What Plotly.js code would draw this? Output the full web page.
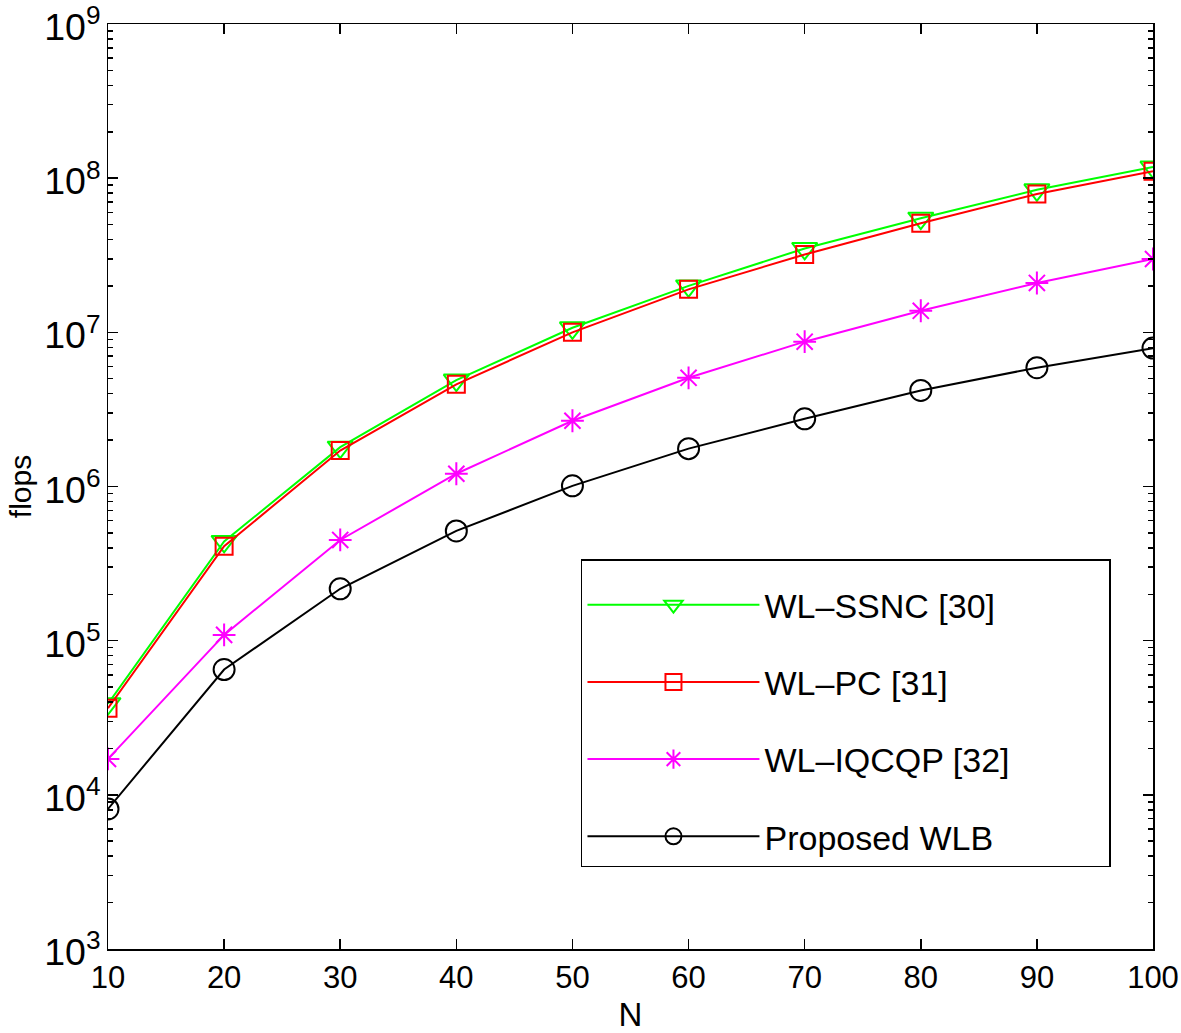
<!DOCTYPE html>
<html>
<head>
<meta charset="utf-8">
<script src="https://cdn.plot.ly/plotly-3.0.1.min.js"></script>
<style>html,body{margin:0;padding:0;background:#fff;}#chart{width:1181px;height:1033px;}</style>
</head>
<body>
<div id="chart"></div>
<script>
const N = [10, 20, 30, 40, 50, 60, 70, 80, 90, 100];
const ssnc = [3.9e4, 4.4e5, 1.8e6, 4.9e6, 1.07e7, 2.0e7, 3.5e7, 5.5e7, 8.4e7, 1.18e8];
const pc = [3.65e4, 4.1e5, 1.71e6, 4.6e6, 1.0e7, 1.9e7, 3.2e7, 5.1e7, 7.9e7, 1.11e8];
const iqcqp = [1.71e4, 1.09e5, 4.5e5, 1.21e6, 2.67e6, 5.07e6, 8.7e6, 1.38e7, 2.09e7, 2.99e7];
const wlb = [8.1e3, 6.5e4, 2.17e5, 5.15e5, 1.01e6, 1.76e6, 2.75e6, 4.2e6, 5.9e6, 7.9e6];
const names = ['WL\u2013SSNC [30]', 'WL\u2013PC [31]', 'WL\u2013IQCQP [32]', 'Proposed WLB'];

const FONT = '"Liberation Sans", Arial, Helvetica, sans-serif';
const PAD = '\u00a0'.repeat(10);

function tr(y, name, color, symbol, size) {
  return {
    x: N, y: y, name: name, type: 'scatter', mode: 'lines+markers',
    legendgroup: name,
    line: {color: color, width: 2},
    marker: {symbol: symbol, size: size, color: color, line: {color: color, width: 2}}
  };
}

const data = [
  tr(ssnc, names[0], '#00ff00', 'triangle-down-open', 22),
  tr(pc, names[1], '#ff0000', 'square-open', 17),
  tr(iqcqp, names[2] + PAD, '#ff00ff', 'asterisk-open', 19),
  tr(wlb, names[3], '#000000', 'circle-open', 21)
];

const layout = {
  width: 1181, height: 1033,
  margin: {l: 108, r: 28, t: 24, b: 84},
  paper_bgcolor: '#fff', plot_bgcolor: '#fff',
  font: {family: FONT, size: 30, color: '#000'},
  showlegend: true,
  legend: {
    x: 0.4526, y: 0.4216, xanchor: 'left', yanchor: 'top',
    bordercolor: '#000', borderwidth: 1.5, bgcolor: '#fff',
    font: {family: FONT, size: 34, color: '#000'},
    title: {text: '\u00a0', font: {family: FONT, size: 12}},
    tracegroupgap: 30, itemwidth: 172
  },
  xaxis: {
    range: [10, 100], dtick: 10, tick0: 10,
    ticks: 'inside', ticklen: 10, tickwidth: 1.5, tickcolor: '#000',
    showline: true, linecolor: '#000', linewidth: 1.5, mirror: 'ticks',
    showgrid: false, zeroline: false, ticklabeloverflow: 'allow',
    tickfont: {family: FONT, size: 31},
    title: {text: 'N', font: {family: FONT, size: 33}, standoff: 19}
  },
  yaxis: {
    type: 'log', range: [3, 9], dtick: 1, exponentformat: 'power',
    ticks: 'inside', ticklen: 10, tickwidth: 1.5, tickcolor: '#000',
    minor: {ticks: 'inside', ticklen: 5, tickwidth: 1.5, tickcolor: '#000', dtick: 'D1', showgrid: false},
    showline: true, linecolor: '#000', linewidth: 1.5, mirror: 'ticks',
    showgrid: false, zeroline: false, ticklabeloverflow: 'allow',
    ticklabelshift: 3,
    tickfont: {family: FONT, size: 30},
    title: {text: 'flops', font: {family: FONT, size: 30}, standoff: 3}
  }
};

Plotly.newPlot('chart', data, layout, {displayModeBar: false, staticPlot: true});
</script>
</body>
</html>
